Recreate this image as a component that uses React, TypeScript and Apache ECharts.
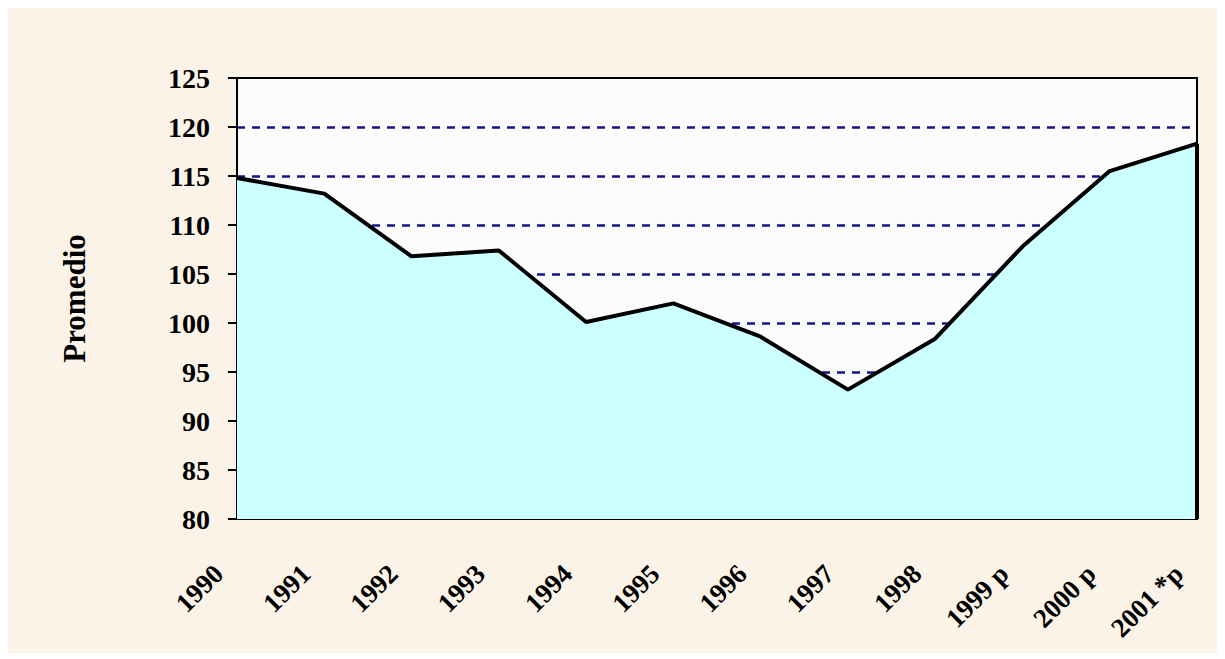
import React, { useEffect, useRef } from "react";
import * as echarts from "echarts";

const categories = ["1990", "1991", "1992", "1993", "1994", "1995", "1996", "1997", "1998", "1999 p", "2000 p", "2001 *p"];
const values = [114.8, 113.2, 106.8, 107.4, 100.1, 102.0, 98.6, 93.2, 98.4, 107.8, 115.5, 118.3];
const yMin = 80;
const yMax = 125;
const yStep = 5;
const yAxisName = "Promedio";

export default function App() {
  const ref = useRef<HTMLDivElement>(null);
  useEffect(() => {
    if (!ref.current) return;
    const chart = echarts.init(ref.current, null, { renderer: "svg" });
    const font = "'Liberation Serif', 'Times New Roman', serif";
    const lastIdx = categories.length - 1;
    chart.setOption({
      animation: false,
      backgroundColor: "#FBF3E7",
      grid: {
        left: 229,
        top: 70,
        right: 20,
        bottom: 134,
        show: true,
        backgroundColor: "#FCFCFC",
        borderColor: "#000",
        borderWidth: 2,
      },
      xAxis: {
        type: "category",
        data: categories,
        boundaryGap: false,
        axisLine: { show: true, lineStyle: { color: "#000", width: 2 } },
        axisTick: { show: false },
        splitLine: { show: false },
        axisLabel: {
          interval: 0,
          rotate: 45,
          margin: 32,
          padding: [0, 26, 0, 0],
          color: "#000",
          fontFamily: font,
          fontWeight: "bold",
          fontSize: 27,
        },
      },
      yAxis: {
        type: "value",
        min: yMin,
        max: yMax,
        interval: yStep,
        name: yAxisName,
        nameLocation: "middle",
        nameGap: 147,
        nameTextStyle: {
          color: "#000",
          fontFamily: font,
          fontWeight: "bold",
          fontSize: 31,
        },
        axisLine: { show: true, lineStyle: { color: "#000", width: 2 } },
        axisTick: { show: true, inside: false, length: 9, lineStyle: { color: "#000", width: 2 } },
        axisLabel: {
          margin: 27,
          color: "#000",
          fontFamily: font,
          fontWeight: "bold",
          fontSize: 28,
        },
        splitLine: {
          show: true,
          showMinLine: false,
          showMaxLine: false,
          lineStyle: { color: "#141488", width: 2.5, type: [8, 7] },
        },
      },
      series: [
        {
          type: "line",
          data: values,
          showSymbol: false,
          symbol: "none",
          lineStyle: { color: "#000", width: 4 },
          areaStyle: { color: "#CCFFFF", opacity: 1, origin: "start" },
          markLine: {
            silent: true,
            symbol: "none",
            label: { show: false },
            lineStyle: { color: "#000", width: 4, type: "solid" },
            data: [[{ coord: [categories[lastIdx], yMin] }, { coord: [categories[lastIdx], values[lastIdx]] }]],
          },
        },
      ],
    });
    return () => chart.dispose();
  }, []);
  return <div ref={ref} style={{ width: 1209, height: 645 }} />;
}
